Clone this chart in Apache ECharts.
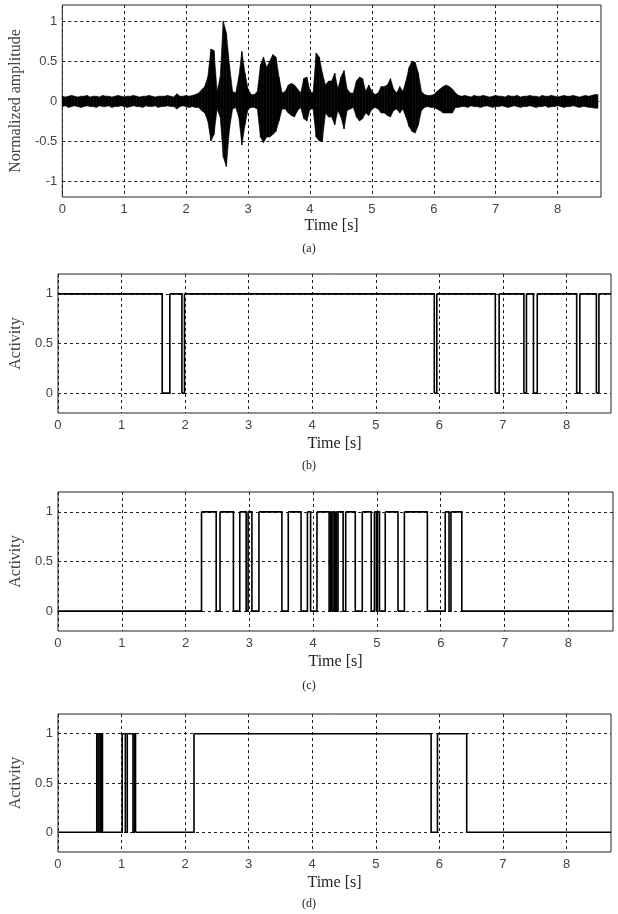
<!DOCTYPE html>
<html>
<head>
    <meta charset="utf-8">
    <title>Speech activity</title>
    <script src="https://cdn.jsdelivr.net/npm/echarts@6/dist/echarts.min.js"></script>
    <style>
        html, body { margin: 0; padding: 0; background: #fff; }
    </style>
</head>
<body>
<div id="main" style="width:618px;height:914px;"></div>
<script type="text/javascript">
// waveform envelope, one knot every 0.05 s from 0 to 8.65 s
var waveStep = 0.05;
var waveHi = [
    0.06,0.05,0.06,0.07,0.06,0.05,0.06,0.06,0.07,0.05,0.06,0.06,0.05,0.07,0.06,0.06,0.05,0.06,0.07,0.06,0.05,0.06,
    0.06,0.07,0.06,0.05,0.06,0.06,0.07,0.06,0.05,0.06,0.06,0.06,0.07,0.06,0.05,0.09,0.06,0.06,0.07,0.06,0.07,0.08,
    0.10,0.14,0.18,0.30,0.65,0.63,0.12,0.30,1.00,0.85,0.45,0.12,0.10,0.30,0.62,0.35,0.15,0.08,0.08,0.12,
    0.45,0.55,0.42,0.50,0.58,0.55,0.30,0.10,0.12,0.20,0.22,0.20,0.15,0.10,0.28,0.30,0.12,0.10,
    0.60,0.55,0.35,0.20,0.25,0.25,0.35,0.15,0.30,0.38,0.15,0.10,0.10,0.25,0.30,0.28,0.12,0.20,0.12,0.08,
    0.10,0.18,0.18,0.20,0.28,0.15,0.10,0.18,0.12,0.25,0.42,0.50,0.48,0.35,0.12,0.08,0.07,0.07,0.08,
    0.12,0.15,0.18,0.20,0.18,0.15,0.10,
    0.07,0.06,0.07,0.06,0.05,0.07,0.06,0.06,0.07,0.06,0.05,0.06,0.07,0.06,0.06,0.05,0.07,0.06,0.06,0.07,0.05,0.06,0.06,
    0.07,0.06,0.06,0.05,0.07,0.06,0.06,0.07,0.06,0.05,0.06,0.07,0.06,0.06,0.07,0.06,0.05,0.06,0.07,0.06,0.07,0.08,0.08
];
var waveLo = [
    -0.07,-0.06,-0.08,-0.07,-0.06,-0.07,-0.08,-0.07,-0.06,-0.07,-0.07,-0.08,-0.06,-0.07,-0.07,-0.06,-0.08,-0.07,-0.07,-0.06,-0.07,-0.08,
    -0.07,-0.06,-0.07,-0.07,-0.08,-0.06,-0.07,-0.07,-0.06,-0.08,-0.07,-0.07,-0.06,-0.07,-0.07,-0.10,-0.07,-0.06,-0.07,-0.08,-0.07,-0.08,
    -0.08,-0.12,-0.15,-0.25,-0.50,-0.42,-0.10,-0.20,-0.70,-0.82,-0.35,-0.10,-0.08,-0.20,-0.55,-0.30,-0.10,-0.08,-0.08,-0.10,
    -0.45,-0.52,-0.45,-0.45,-0.42,-0.38,-0.25,-0.10,-0.10,-0.15,-0.18,-0.20,-0.12,-0.08,-0.22,-0.25,-0.10,-0.10,
    -0.45,-0.50,-0.50,-0.15,-0.20,-0.20,-0.30,-0.12,-0.20,-0.35,-0.12,-0.10,-0.08,-0.20,-0.25,-0.22,-0.15,-0.18,-0.10,-0.08,
    -0.10,-0.15,-0.15,-0.18,-0.20,-0.12,-0.10,-0.15,-0.10,-0.20,-0.32,-0.38,-0.40,-0.30,-0.12,-0.08,-0.07,-0.08,-0.08,
    -0.10,-0.12,-0.15,-0.15,-0.15,-0.15,-0.08,
    -0.08,-0.07,-0.07,-0.08,-0.06,-0.07,-0.07,-0.08,-0.07,-0.06,-0.07,-0.08,-0.07,-0.07,-0.06,-0.07,-0.08,-0.07,-0.06,-0.07,-0.08,-0.07,-0.07,
    -0.06,-0.07,-0.08,-0.07,-0.07,-0.06,-0.08,-0.07,-0.07,-0.06,-0.07,-0.08,-0.07,-0.07,-0.06,-0.07,-0.08,-0.07,-0.07,-0.08,-0.08,-0.09,-0.09
];

// activity switching times (s); state flips at each time
var actB_start = 1;
var actB = [1.64, 1.76, 1.95, 1.99, 5.92, 5.96, 6.88, 6.94, 7.33, 7.37, 7.48, 7.54, 8.16, 8.21, 8.47, 8.51];
var actC_start = 0;
var actC = [2.25, 2.48, 2.54, 2.75, 2.85, 2.95, 2.98, 3.04, 3.15, 3.51, 3.61, 3.81, 3.91, 3.96, 4.06,
    4.25, 4.27, 4.29, 4.31, 4.33, 4.35, 4.37, 4.39, 4.47, 4.51, 4.66, 4.77, 4.91, 4.96, 4.99, 5.01, 5.04,
    5.13, 5.33, 5.43, 5.79, 6.07, 6.13, 6.16, 6.33];
var actD_start = 0;
var actD = [0.61, 0.63, 0.645, 0.665, 0.68, 0.70, 1.01, 1.06, 1.09, 1.18, 1.20, 1.22, 2.14, 5.87, 5.97, 6.43];

var tEnd = 8.7;
var xTicks = [0, 1, 2, 3, 4, 5, 6, 7, 8];
var ampTicks = [-1, -0.5, 0, 0.5, 1];
var actTicks = [0, 0.5, 1];
var captions = ['(a)', '(b)', '(c)', '(d)'];

// one item per constant stretch: [from, to, level, next level or -1]
function stepData(start, times) {
    var s = start, t0 = 0, out = [];
    times.forEach(function (t) {
        out.push([t0, t, s, 1 - s]);
        s = 1 - s;
        t0 = t;
    });
    out.push([t0, tEnd, s, -1]);
    return out;
}

function renderStep(params, api) {
    var a = api.coord([api.value(0), api.value(2)]);
    var b = api.coord([api.value(1), api.value(2)]);
    var pts = [a, b];
    if (api.value(3) >= 0) {
        pts.push(api.coord([api.value(1), api.value(3)]));
    }
    return {
        type: 'polyline',
        shape: { points: pts },
        style: { stroke: '#000', lineWidth: 1.6, fill: null }
    };
}

var waveSeg = [];
for (var i = 0; i < waveHi.length - 1; i++) {
    waveSeg.push([i * waveStep, waveHi[i], waveLo[i], (i + 1) * waveStep, waveHi[i + 1], waveLo[i + 1]]);
}

var grids = [
    { left: 59, top: 5, width: 542, height: 192 },
    { left: 48, top: 274, width: 563, height: 139 },
    { left: 47, top: 492, width: 566, height: 139 },
    { left: 48, top: 714, width: 563, height: 138 }
];
grids.forEach(function (g) {
    g.show = true;
    g.borderColor = '#222';
    g.borderWidth = 1;
    g.backgroundColor = '#fff';
});

var tickFont = "'Liberation Sans Narrow', 'Liberation Sans', Arial, sans-serif";
var serif = "'Liberation Serif', 'DejaVu Serif', serif";
var gridLine = { show: true, lineStyle: { color: '#222', type: [3, 3], width: 1 } };

var xAxes = grids.map(function (g, k) {
    return {
        type: 'value', gridIndex: k, min: 0, max: tEnd,
        axisLine: { show: false }, axisTick: { show: false, customValues: xTicks },
        axisLabel: { customValues: xTicks, color: '#444', fontFamily: tickFont, fontSize: 13, margin: 6 },
        splitLine: gridLine,
        name: 'Time [s]', nameLocation: 'middle', nameGap: k === 0 ? 21 : 23,
        nameTextStyle: { fontFamily: serif, fontSize: 16, color: '#222' }
    };
});
var yAxes = grids.map(function (g, k) {
    var t = k === 0 ? ampTicks : actTicks;
    return {
        type: 'value', gridIndex: k,
        min: k === 0 ? -1.2 : -0.2, max: 1.2,
        axisLine: { show: false }, axisTick: { show: false, customValues: t },
        axisLabel: { customValues: t, color: '#444', fontFamily: tickFont, fontSize: 13, margin: 5 },
        splitLine: gridLine,
        name: k === 0 ? 'Normalized amplitude' : 'Activity',
        nameLocation: 'middle', nameGap: k === 0 ? 33 : 30,
        nameTextStyle: { fontFamily: serif, fontSize: 16, color: '#444' }
    };
});

var option = {
    animation: false,
    backgroundColor: '#fff',
    grid: grids,
    xAxis: xAxes,
    yAxis: yAxes,
    graphic: captions.map(function (c, k) {
        var ys = [250, 467, 687, 905];
        return {
            type: 'text', left: 'center', top: ys[k] - 7,
            style: { text: c, font: '12px ' + serif, fill: '#222' }
        };
    }),
    series: [
        {
            type: 'custom', xAxisIndex: 0, yAxisIndex: 0, data: waveSeg,
            renderItem: function (params, api) {
                var p1 = api.coord([api.value(0), api.value(1)]);
                var p2 = api.coord([api.value(3), api.value(4)]);
                var p3 = api.coord([api.value(3), api.value(5)]);
                var p4 = api.coord([api.value(0), api.value(2)]);
                return {
                    type: 'polygon',
                    shape: { points: [p1, p2, p3, p4] },
                    style: { fill: '#000', stroke: '#000', lineWidth: 0.6 }
                };
            }
        },
        { type: 'custom', xAxisIndex: 1, yAxisIndex: 1, data: stepData(actB_start, actB), renderItem: renderStep },
        { type: 'custom', xAxisIndex: 2, yAxisIndex: 2, data: stepData(actC_start, actC), renderItem: renderStep },
        { type: 'custom', xAxisIndex: 3, yAxisIndex: 3, data: stepData(actD_start, actD), renderItem: renderStep }
    ]
};

var chart = echarts.init(document.getElementById('main'));
chart.setOption(option);
</script>
</body>
</html>
